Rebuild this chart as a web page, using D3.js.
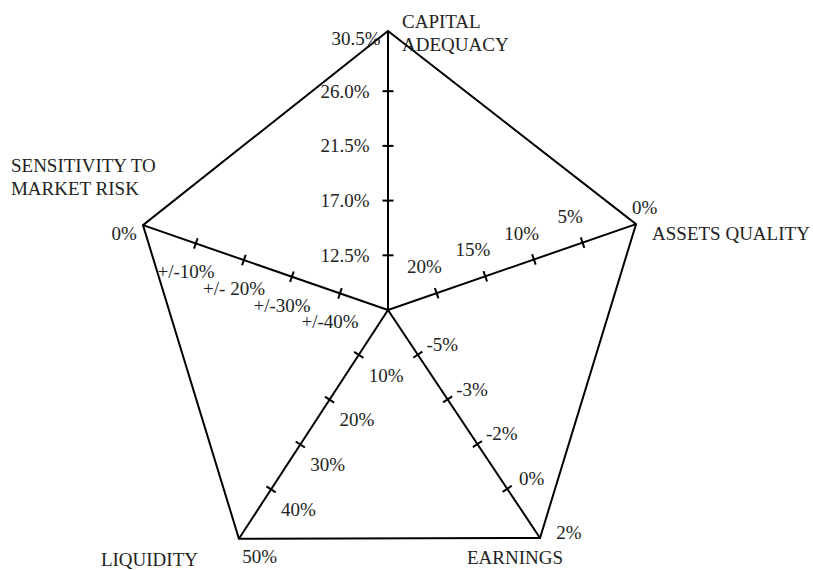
<!DOCTYPE html>
<html>
<head>
<meta charset="utf-8">
<script src="https://cdn.jsdelivr.net/npm/d3@7"></script>
<style>
  body { margin: 0; background: #fff; }
  text { font-family: "Liberation Serif", "Times New Roman", serif; font-size: 19px; fill: #222; }
</style>
</head>
<body>
<div id="chart"></div>
<script>
var svgWidth = 813;
var svgHeight = 570;

// axis names, clockwise from the top
var categories = ["CAPITAL\nADEQUACY", "ASSETS QUALITY", "EARNINGS", "LIQUIDITY", "SENSITIVITY TO\nMARKET RISK"];

// tick labels along each axis, from the centre outwards (last one sits on the corner)
var capitalTicks = ["12.5%", "17.0%", "21.5%", "26.0%", "30.5%"];
var assetsTicks = ["20%", "15%", "10%", "5%", "0%"];
var earningsTicks = ["-5%", "-3%", "-2%", "0%", "2%"];
var liquidityTicks = ["10%", "20%", "30%", "40%", "50%"];
var sensitivityTicks = ["+/-40%", "+/-30%", "+/- 20%", "+/-10%", "0%"];

var tickLabels = [capitalTicks, assetsTicks, earningsTicks, liquidityTicks, sensitivityTicks];

// drawing layout for each axis (angle in degrees, screen coords)
var center = { x: 388, y: 310 };
var layout = [
  { angle: -90,   len: 279,   along: 0,  perp: -43, vx: -32,   vy: 7.5, nx: 14,   ny: -3,  anchor: "start" },
  { angle: -19.1, len: 262.5, along: -3, perp: -29, vx: 8.5,   vy: -17, nx: 16,   ny: 16,  anchor: "start" },
  { angle: 56.3,  len: 274,   along: 5,  perp: -26, vx: 29,    vy: -5,  nx: -73,  ny: 26,  anchor: "start" },
  { angle: 123.1, len: 273,   along: 2,  perp: -34, vx: 20.7,  vy: 18,  nx: -138, ny: 27,  anchor: "start" },
  { angle: 199.1, len: 259.3, along: 0,  perp: -30, vx: -18.7, vy: 8.7, nx: -132, ny: -53, anchor: "start" }
];
var overhang = 0.1;   // corner sits a little past the last tick step
var tickHalf = 5.5;
var lineHeight = 22.5;

var svg = d3.select("#chart")
  .append("svg")
  .attr("width", svgWidth)
  .attr("height", svgHeight);

var axes = categories.map(function (name, i) {
  var l = layout[i];
  var a = l.angle * Math.PI / 180;
  var n = tickLabels[i].length;
  var scale = d3.scaleLinear()
    .domain([0, n + overhang])
    .range([0, l.len]);
  var ux = Math.cos(a), uy = Math.sin(a);
  return {
    name: name,
    ticks: tickLabels[i],
    corner: n + overhang,
    l: l,
    point: function (v, along, perp) {
      var r = scale(v) + (along || 0);
      return [center.x + ux * r - uy * (perp || 0), center.y + uy * r + ux * (perp || 0)];
    }
  };
});

var g = svg.append("g");

// outline
var outline = d3.line().curve(d3.curveLinearClosed);
g.append("path")
  .attr("d", outline(axes.map(function (ax) { return ax.point(ax.corner); })))
  .attr("fill", "none")
  .attr("stroke", "#000")
  .attr("stroke-width", 2)
  .attr("stroke-linejoin", "miter");

// spokes
g.selectAll(".spoke")
  .data(axes)
  .enter()
  .append("line")
  .attr("class", "spoke")
  .attr("x1", center.x)
  .attr("y1", center.y)
  .attr("x2", d => d.point(d.corner)[0])
  .attr("y2", d => d.point(d.corner)[1])
  .attr("stroke", "#000")
  .attr("stroke-width", 2);

axes.forEach(function (ax) {
  var inner = ax.ticks.slice(0, ax.ticks.length - 1);

  // tick marks
  g.selectAll(null)
    .data(inner)
    .enter()
    .append("line")
    .attr("x1", (d, i) => ax.point(i + 1, 0, -tickHalf)[0])
    .attr("y1", (d, i) => ax.point(i + 1, 0, -tickHalf)[1])
    .attr("x2", (d, i) => ax.point(i + 1, 0, tickHalf)[0])
    .attr("y2", (d, i) => ax.point(i + 1, 0, tickHalf)[1])
    .attr("stroke", "#000")
    .attr("stroke-width", 2);

  // tick labels
  g.selectAll(null)
    .data(inner)
    .enter()
    .append("text")
    .attr("x", (d, i) => ax.point(i + 1, ax.l.along, ax.l.perp)[0])
    .attr("y", (d, i) => ax.point(i + 1, ax.l.along, ax.l.perp)[1])
    .attr("text-anchor", "middle")
    .attr("dominant-baseline", "central")
    .text(d => d);

  // corner label
  var end = ax.point(ax.corner);
  g.append("text")
    .attr("x", end[0] + ax.l.vx)
    .attr("y", end[1] + ax.l.vy)
    .attr("text-anchor", "middle")
    .attr("dominant-baseline", "central")
    .text(ax.ticks[ax.ticks.length - 1]);

  // axis name
  var name = g.append("text")
    .attr("text-anchor", ax.l.anchor);
  ax.name.split("\n").forEach(function (line, k) {
    name.append("tspan")
      .attr("x", end[0] + ax.l.nx)
      .attr("y", end[1] + ax.l.ny + k * lineHeight)
      .text(line);
  });
});
</script>
</body>
</html>
